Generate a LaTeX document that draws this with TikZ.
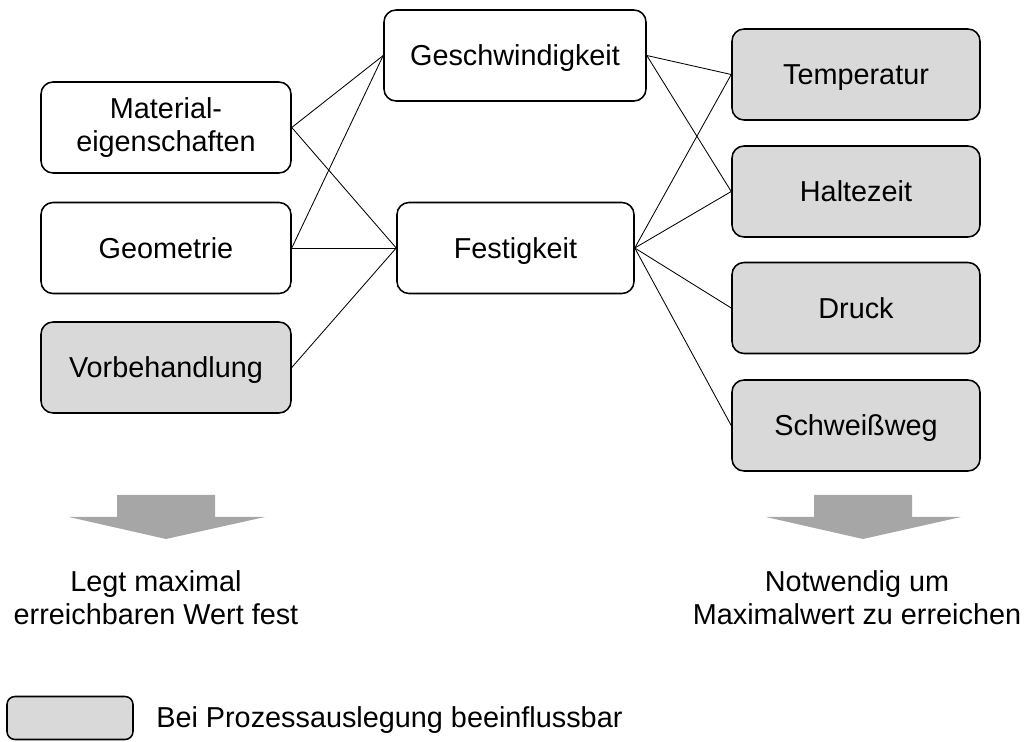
\documentclass[tikz,border=0pt]{standalone}
\usepackage{fontspec}
\setmainfont{Liberation Sans}
\tikzset{
  feld/.style={draw, line width=1.1pt, rounded corners=0.3cm, minimum height=2.275cm,
    align=center, inner sep=0pt, font=\fontsize{20.5}{24}\selectfont},
  prozess/.style={feld, fill=black!15},
  zeile/.style={text height=14.7pt, text depth=0pt},
  linie/.style={line width=0.6pt},
  pfeil/.style={fill=black!35},
  schrift/.style={align=center, inner sep=0pt, font=\fontsize{20.5}{23.4}\selectfont}
}
\begin{document}
\begin{tikzpicture}
    \useasboundingbox (0,0) rectangle (25.675,18.55);

    % Einflussgroessen links
    \node[feld, minimum width=6.25cm] (mat) at (4.15,15.3625) {Material-\\eigenschaften};
    \node[feld, zeile, minimum width=6.25cm] (geo) at (4.15,12.35) {Geometrie};
    \node[prozess, zeile, minimum width=6.25cm] (vor) at (4.15,9.3625) {Vorbehandlung};

    % Zielgroessen Mitte
    \node[feld, zeile, minimum width=6.55cm] (ges) at (12.875,17.1625) {Geschwindigkeit};
    \node[feld, zeile, minimum width=5.925cm] (fes) at (12.8875,12.35) {Festigkeit};

    % Prozessparameter rechts
    \node[prozess, zeile, minimum width=6.2cm] (tem) at (21.4,16.6875) {Temperatur};
    \node[prozess, zeile, minimum width=6.2cm] (hal) at (21.4,13.7625) {Haltezeit};
    \node[prozess, zeile, minimum width=6.2cm] (dru) at (21.4,10.85) {Druck};
    \node[prozess, zeile, minimum width=6.2cm] (swg) at (21.4,7.9125) {Schweißweg};

    \draw[linie] (mat.east) -- (ges.west);
    \draw[linie] (mat.east) -- (fes.west);
    \draw[linie] (geo.east) -- (ges.west);
    \draw[linie] (geo.east) -- (fes.west);
    \draw[linie] (vor.east) -- (fes.west);

    \draw[linie] (ges.east) -- (tem.west);
    \draw[linie] (ges.east) -- (hal.west);
    \draw[linie] (fes.east) -- (tem.west);
    \draw[linie] (fes.east) -- (hal.west);
    \draw[linie] (fes.east) -- (dru.west);
    \draw[linie] (fes.east) -- (swg.west);

    % Blockpfeile
    \fill[pfeil] (2.925,6.175) -- (5.375,6.175) -- (5.375,5.625) -- (6.625,5.625)
        -- (4.15,5.075) -- (1.725,5.625) -- (2.925,5.625) -- cycle;
    \fill[pfeil] (20.35,6.175) -- (22.8,6.175) -- (22.8,5.625) -- (24.025,5.625)
        -- (21.575,5.075) -- (19.15,5.625) -- (20.35,5.625) -- cycle;

    \node[schrift] (max) at (3.9,3.6) {Legt maximal\\erreichbaren Wert fest};
    \node[schrift] (not) at (21.425,3.6) {Notwendig um\\Maximalwert zu erreichen};

    % Legende
    \node[prozess, minimum width=3.15cm, minimum height=1.075cm, rounded corners=0.2cm] (leg) at (1.75,0.6) {};
    \node[schrift, anchor=west] (legtext) at (3.9,0.55) {Bei Prozessauslegung beeinflussbar};
\end{tikzpicture}
\end{document}
